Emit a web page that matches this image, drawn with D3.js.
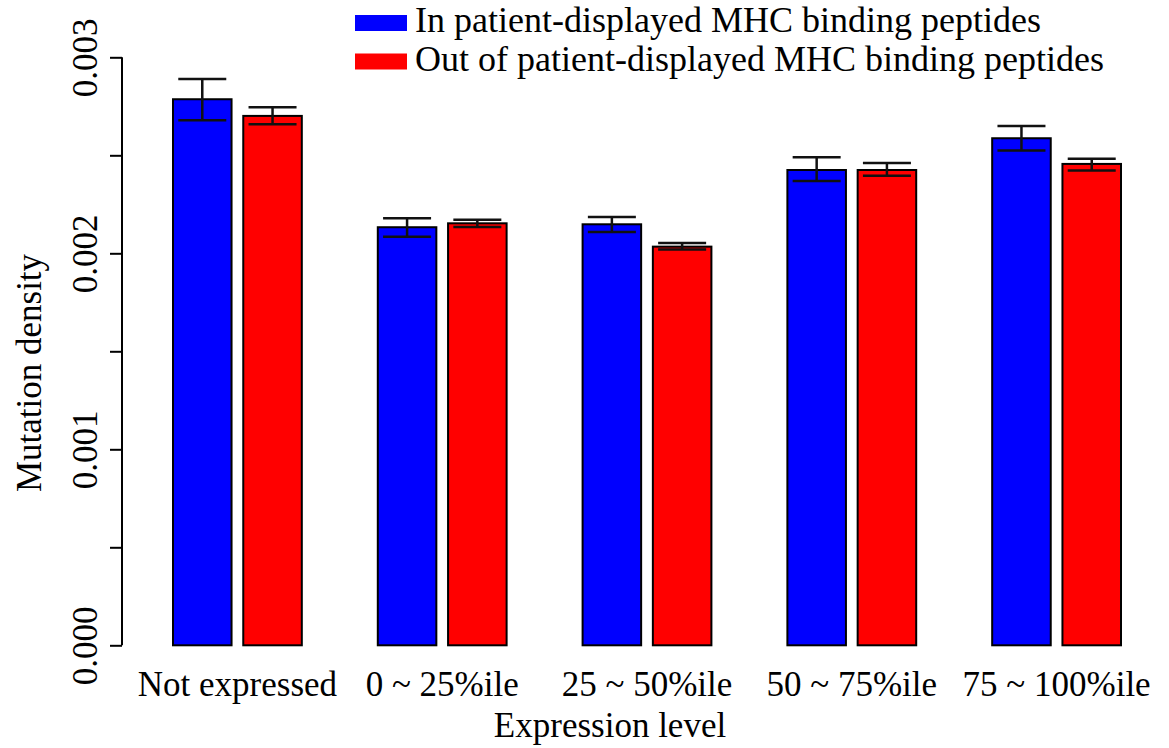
<!DOCTYPE html>
<html>
<head>
<meta charset="utf-8">
<script src="https://cdn.jsdelivr.net/npm/d3@7"></script>
<style>
  body { margin: 0; background: #fff; }
  svg text { fill: #000; }
</style>
</head>
<body>
<script>
// values
var categories = ["Not expressed", "0 ~ 25%ile", "25 ~ 50%ile", "50 ~ 75%ile", "75 ~ 100%ile"];
var seriesNames = ["In patient-displayed MHC binding peptides", "Out of patient-displayed MHC binding peptides"];
var seriesColors = ["#0000ff", "#ff0000"];

var inValues = [0.002786, 0.002133, 0.002148, 0.002425, 0.002587];
var inLower  = [0.002679, 0.002085, 0.002109, 0.002369, 0.002525];
var inUpper  = [0.002889, 0.002179, 0.002185, 0.002490, 0.002650];

var outValues = [0.002701, 0.002153, 0.002034, 0.002425, 0.002456];
var outLower  = [0.002658, 0.002134, 0.002020, 0.002396, 0.002423];
var outUpper  = [0.002745, 0.002171, 0.002053, 0.002461, 0.002483];

var yTicks = [0, 0.0005, 0.001, 0.0015, 0.002, 0.0025, 0.003];

var WIDTH = 1169, HEIGHT = 748;
var FONT = 35;
var FAMILY = "'Liberation Serif', 'Times New Roman', Times, 'DejaVu Serif', serif";

var svg = d3.select("body").append("svg")
  .attr("width", WIDTH).attr("height", HEIGHT)
  .attr("font-family", FAMILY);

// build rows
var rows = [];
categories.forEach(function (c, i) {
  rows.push({ cat: c, s: 0, v: inValues[i], lo: inLower[i], hi: inUpper[i] });
  rows.push({ cat: c, s: 1, v: outValues[i], lo: outLower[i], hi: outUpper[i] });
});

var xGroup = d3.scaleBand()
  .domain(categories)
  .range([173, 1121])
  .paddingInner(0.371)
  .paddingOuter(0);

var xInner = d3.scaleBand()
  .domain([0, 1])
  .range([0, xGroup.bandwidth()])
  .paddingInner(0.1667)
  .paddingOuter(0);

var y = d3.scaleLinear()
  .domain([0, 0.003])
  .range([645.3, 57.3]);

function cx(d) { return xGroup(d.cat) + xInner(d.s) + xInner.bandwidth() / 2; }

// bars
svg.append("g").selectAll("rect")
  .data(rows)
  .enter()
  .append("rect")
  .attr("x", function (d) { return xGroup(d.cat) + xInner(d.s); })
  .attr("y", function (d) { return y(d.v); })
  .attr("width", xInner.bandwidth())
  .attr("height", function (d) { return y(0) - y(d.v); })
  .attr("fill", function (d) { return seriesColors[d.s]; })
  .attr("stroke", "#000")
  .attr("stroke-width", 2);

// error bars
var capHalf = 24;
var err = svg.append("g").selectAll("g")
  .data(rows)
  .enter()
  .append("g")
  .attr("stroke", "#111")
  .attr("stroke-width", 2.5);
err.append("line")
  .attr("x1", cx).attr("x2", cx)
  .attr("y1", function (d) { return y(d.lo); })
  .attr("y2", function (d) { return y(d.hi); });
err.append("line")
  .attr("x1", function (d) { return cx(d) - capHalf; })
  .attr("x2", function (d) { return cx(d) + capHalf; })
  .attr("y1", function (d) { return y(d.hi); })
  .attr("y2", function (d) { return y(d.hi); });
err.append("line")
  .attr("x1", function (d) { return cx(d) - capHalf; })
  .attr("x2", function (d) { return cx(d) + capHalf; })
  .attr("y1", function (d) { return y(d.lo); })
  .attr("y2", function (d) { return y(d.lo); });

// y axis
var yAxis = d3.axisLeft(y)
  .tickValues(yTicks)
  .tickSize(12)
  .tickPadding(0)
  .tickFormat(function (d) {
    var k = Math.round(d * 10000);
    return (k % 10 == 0) ? d3.format(".3f")(d) : "";
  });
var gy = svg.append("g")
  .attr("transform", "translate(122,0)")
  .call(yAxis)
  .attr("font-family", FAMILY);
gy.select(".domain").attr("stroke", "#000").attr("stroke-width", 2)
  .attr("d", "M0," + y(0) + "V" + y(0.003));
gy.selectAll(".tick line").attr("stroke", "#000").attr("stroke-width", 2);
gy.selectAll(".tick text")
  .attr("font-size", FONT)
  .attr("text-anchor", "middle")
  .attr("x", null).attr("dy", null)
  .attr("transform", "translate(-25,0) rotate(-90)");

// x axis labels
var xAxis = d3.axisBottom(xGroup).tickSize(0).tickPadding(0);
var gx = svg.append("g")
  .attr("transform", "translate(0,696)")
  .call(xAxis)
  .attr("font-family", FAMILY);
gx.select(".domain").remove();
gx.selectAll(".tick text")
  .attr("font-size", FONT)
  .attr("y", 0).attr("dy", null);

// axis titles
svg.append("text")
  .attr("x", 610).attr("y", 737)
  .attr("text-anchor", "middle")
  .attr("font-size", FONT)
  .text("Expression level");

svg.append("text")
  .attr("transform", "translate(41,373) rotate(-90)")
  .attr("text-anchor", "middle")
  .attr("font-size", FONT)
  .text("Mutation density");

// legend
var legend = svg.append("g").selectAll("g")
  .data(seriesNames)
  .enter()
  .append("g")
  .attr("transform", function (d, i) { return "translate(355," + (15 + i * 38.5) + ")"; });
legend.append("rect")
  .attr("width", 52).attr("height", 16)
  .attr("fill", function (d, i) { return seriesColors[i]; });
legend.append("text")
  .attr("x", 60).attr("y", 17)
  .attr("font-size", 36)
  .text(function (d) { return d; });
</script>
</body>
</html>
